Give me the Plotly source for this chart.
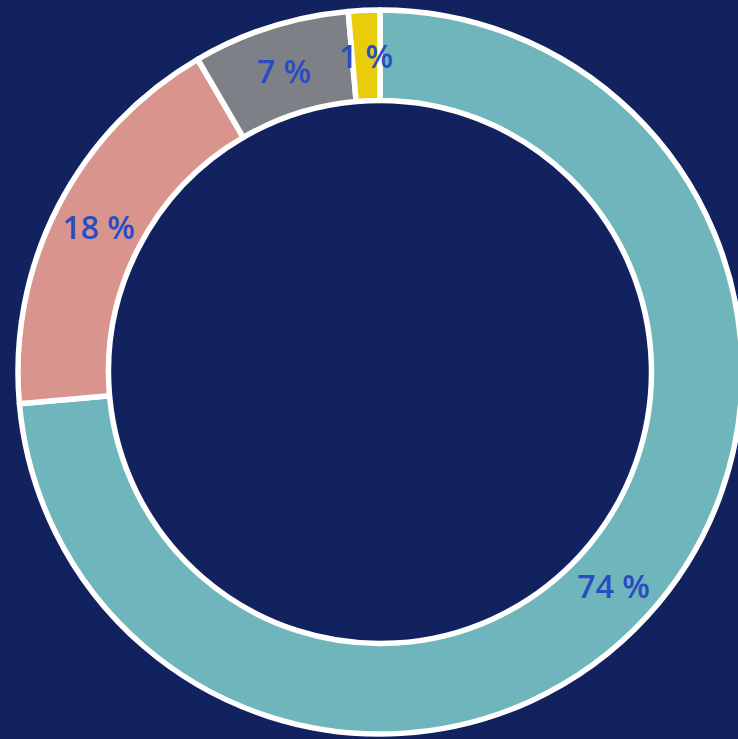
import math
import plotly.graph_objects as go

labels = ["Segment A", "Segment B", "Segment C", "Segment D"]
values = [73.6, 18.0, 7.0, 1.4]
pct_text = ["74 %", "18 %", "7 %", "1 %"]
colors = ["#6fb5bc", "#d9948e", "#7d8086", "#e9cc0a"]

BG = "#12225f"
TXT = "#2a4cc2"
FONT = "Open Sans"
FSIZE = 32

fig = go.Figure()
fig.add_trace(go.Pie(
    labels=labels,
    values=values,
    text=[t if v >= 5 else "" for t, v in zip(pct_text, values)],
    textinfo="text",
    textposition="inside",
    insidetextorientation="horizontal",
    textfont=dict(family=FONT, size=FSIZE, color=TXT, weight=600),
    hole=0.75,
    sort=False,
    direction="clockwise",
    rotation=0,
    marker=dict(colors=colors, line=dict(color="white", width=5.5)),
    showlegend=False,
    domain=dict(x=[0, 1], y=[0, 1]),
))

# label for the thin slice, placed at the slice's mid angle, mid ring
total = sum(values)
cum = 0
annots = []
W, H = 760, 739
ml, mr, mt, mb = 18, 18, 10, 5
cx = ml + (W - ml - mr) / 2
cy = mt + (H - mt - mb) / 2
R = min(W - ml - mr, H - mt - mb) / 2
for v, t in zip(values, pct_text):
    mid = (cum + v / 2) / total * 2 * math.pi
    cum += v
    if v < 5:
        rr = R * (1 + 0.75) / 2
        px = cx + rr * math.sin(mid)
        py = cy - rr * math.cos(mid)
        annots.append(dict(x=(px - ml) / (W - ml - mr), y=1 - (py - mt) / (H - mt - mb),
                           xref="paper", yref="paper", xanchor="center", yanchor="middle",
                           text=t, showarrow=False,
                           font=dict(family=FONT, size=FSIZE, color=TXT, weight=600)))

fig.update_layout(
    width=W, height=H,
    margin=dict(l=ml, r=mr, t=mt, b=mb),
    paper_bgcolor=BG, plot_bgcolor=BG,
    annotations=annots,
)

fig.write_html("out.html", config={"displayModeBar": False},
               post_script="document.body.style.margin='0';document.body.style.overflow='hidden';")
